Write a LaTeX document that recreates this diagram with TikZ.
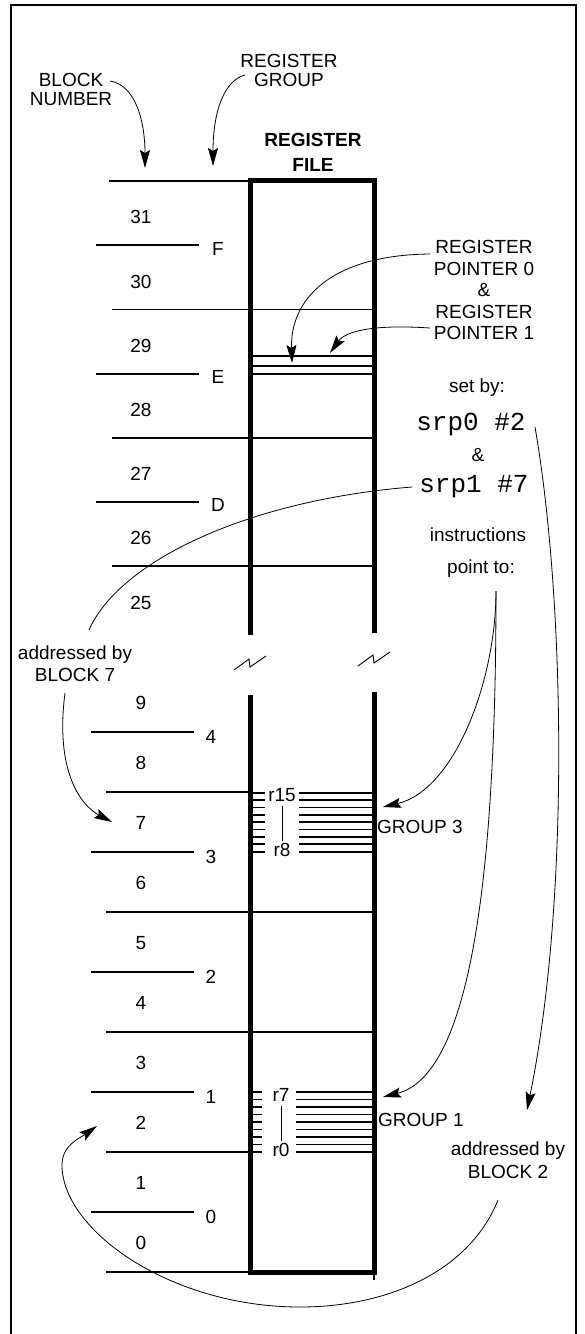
\documentclass[tikz,border=0pt]{standalone}
\usepackage{fontspec}
\setmainfont{Liberation Sans}
\setmonofont{Liberation Mono}
\usepackage{tikz}
\usetikzlibrary{arrows.meta, positioning, calc}
\tikzset{
    lbl/.style={inner sep=0pt, text height=13.6pt, text depth=0pt},
    multi/.style={inner sep=0pt, align=center},
    code/.style={inner sep=0pt, font=\ttfamily\fontsize{26}{26}\selectfont, text height=15.5pt, text depth=0pt},
    blk/.style={line width=1.8pt},
    wall/.style={line width=5pt},
    link/.style={line width=0.8pt},
    arrow/.style={-{Stealth[length=18pt, width=10pt, inset=3pt]}, line width=0.8pt}
}

\begin{document}
\begin{tikzpicture}[x=1pt, y=-1pt, font=\fontsize{19}{19}\selectfont]
    \useasboundingbox (0,0) rectangle (584,1334);
    \draw[line width=2.5pt] (11,1334) -- (11,5) -- (576,5) -- (576,1334);

    % Register file, broken in the middle
    \draw[wall] (250.5,635) -- (250.5,180) -- (374,180) -- (374,633);
    \draw[wall] (250.5,695) -- (250.5,1272) -- (374,1272) -- (374,692);
    \draw[blk] (374,1272) -- (374,1280);
    \foreach \bx/\by in {250/663, 374/659}
        \draw[line width=0.9pt] (\bx-16,\by+7) -- (\bx-1,\by-4) -- (\bx,\by+4) -- (\bx+16,\by-7);

    % Upper blocks 31..25
    \draw[blk] (109,181) -- (250,181);
    \foreach \k/\g in {1/F, 3/E, 5/D} {
        \draw[blk] (96,181+64.2*\k) -- (199,181+64.2*\k);
        \node[lbl] (grp\g) at (218,184+64.2*\k) {\g};
    }
    \foreach \k in {2,4,6}
        \draw[blk] (112,181+64.2*\k) -- (374,181+64.2*\k);
    \foreach \j in {0,...,6} {
        \pgfmathtruncatemacro{\b}{31-\j}
        \node[lbl] (blk\b) at (141,217+64.2*\j) {\b};
    }
    \foreach \y in {356,366,374}
        \draw[blk] (250,\y) -- (374,\y);

    % Lower blocks 9..0
    \foreach \k/\g in {0/4, 2/3, 4/2, 6/1, 8/0} {
        \draw[blk] (91,732+60*\k) -- (194,732+60*\k);
        \node[lbl] (grp\g) at (211,737+60*\k) {\g};
    }
    \foreach \k/\xe in {1/250, 3/374, 5/374, 7/250, 9/250}
        \draw[blk] (106,732+60*\k) -- (\xe,732+60*\k);
    \foreach \b in {0,...,9}
        \node[lbl] (blk\b) at (141,1243-60*\b) {\b};

    % Registers of groups 3 and 1
    \foreach \i in {0,...,8} {
        \draw[blk] (250,792.7+7.37*\i) -- (265,792.7+7.37*\i);
        \draw[blk] (299,792.7+7.37*\i) -- (372,792.7+7.37*\i);
        \draw[blk] (250,1092+7.5*\i) -- (262,1092+7.5*\i);
        \draw[blk] (296,1092+7.5*\i) -- (372,1092+7.5*\i);
    }
    \node[lbl] (rfifteen) at (282,795) {r15};
    \node[lbl] (reight) at (282,850) {r8};
    \node[lbl] (rseven) at (281,1095) {r7};
    \node[lbl] (rzero) at (281,1150) {r0};
    \draw[link, shorten <=4pt, shorten >=2pt] (rfifteen.south) -- (reight.north);
    \draw[link, shorten <=4pt, shorten >=2pt] (rseven.south) -- (rzero.north);
    \node[lbl, anchor=west] (gthree) at (377,827) {GROUP 3};
    \node[lbl, anchor=west] (gone) at (378,1120) {GROUP 1};

    % Labels
    \node[multi] (blocknum) at (71,89.5) {BLOCK\\NUMBER};
    \node[multi] (reggroup) at (289,70) {REGISTER\\GROUP};
    \node[multi, font=\bfseries\fontsize{19}{25}\selectfont] (regfile) at (313,152.5) {REGISTER\\FILE};
    \node[multi, font=\fontsize{19}{21.5}\selectfont] (regptr) at (484,290) {REGISTER\\POINTER 0\\\&\\REGISTER\\POINTER 1};
    \node[lbl] (setby) at (477,386) {set by:};
    \node[code] (srpzero) at (471,423) {srp0 \#2};
    \node[lbl] (amp) at (478,455) {\&};
    \node[code] (srpone) at (474,485) {srp1 \#7};
    \node[lbl] (instr) at (478,535) {instructions};
    \node[lbl] (pointto) at (481,567) {point to:};
    \node[multi, font=\fontsize{19}{22}\selectfont] (addrseven) at (75,664) {addressed by\\BLOCK 7};
    \node[multi, font=\fontsize{19}{23}\selectfont] (addrtwo) at (508,1160.5) {addressed by\\BLOCK 2};

    % Arrows
    \coordinate (bnumout) at (110,81);
    \coordinate (bnumtip) at (145,168);
    \coordinate (rgrpout) at (245,75);
    \coordinate (rgrptip) at (213,166);
    \coordinate (ptrzout) at (430,254);
    \coordinate (ptrztip) at (292,363);
    \coordinate (ptroout) at (430,328);
    \coordinate (ptrotip) at (330,353);
    \coordinate (srpoout) at (412,487);
    \coordinate (addrin) at (89,630);
    \coordinate (addrout) at (65,693);
    \coordinate (blkseventip) at (112,822);
    \coordinate (srpzout) at (535,427);
    \coordinate (srpztip) at (527,1110);
    \coordinate (ptout) at (496,591);
    \coordinate (gthreetip) at (383,807);
    \coordinate (gonetip) at (383,1097);
    \coordinate (addrtwoout) at (498,1200);
    \coordinate (blktwotip) at (97,1126);

    \draw[arrow] (bnumout) .. controls (135,85) and (145,120) .. (bnumtip);
    \draw[arrow] (rgrpout) .. controls (225,80) and (213,110) .. (rgrptip);
    \draw[arrow] (ptrzout) .. controls (330,255) and (290,300) .. (ptrztip);
    \draw[arrow] (ptroout) .. controls (370,324) and (345,332) .. (ptrotip);
    \draw[link] (srpoout) .. controls (250,500) and (120,560) .. (addrin);
    \draw[arrow] (addrout) .. controls (55,770) and (80,805) .. (blkseventip);
    \draw[arrow] (srpzout) .. controls (565,600) and (570,900) .. (srpztip);
    \draw[arrow] (ptout) .. controls (496,680) and (455,790) .. (gthreetip);
    \draw[arrow] (ptout) .. controls (496,880) and (470,1075) .. (gonetip);
    \draw[arrow] (addrtwoout) .. controls (470,1270) and (390,1307) .. (300,1307)
        .. controls (170,1307) and (62,1230) .. (62,1165)
        .. controls (62,1145) and (80,1138) .. (blktwotip);
\end{tikzpicture}
\end{document}
